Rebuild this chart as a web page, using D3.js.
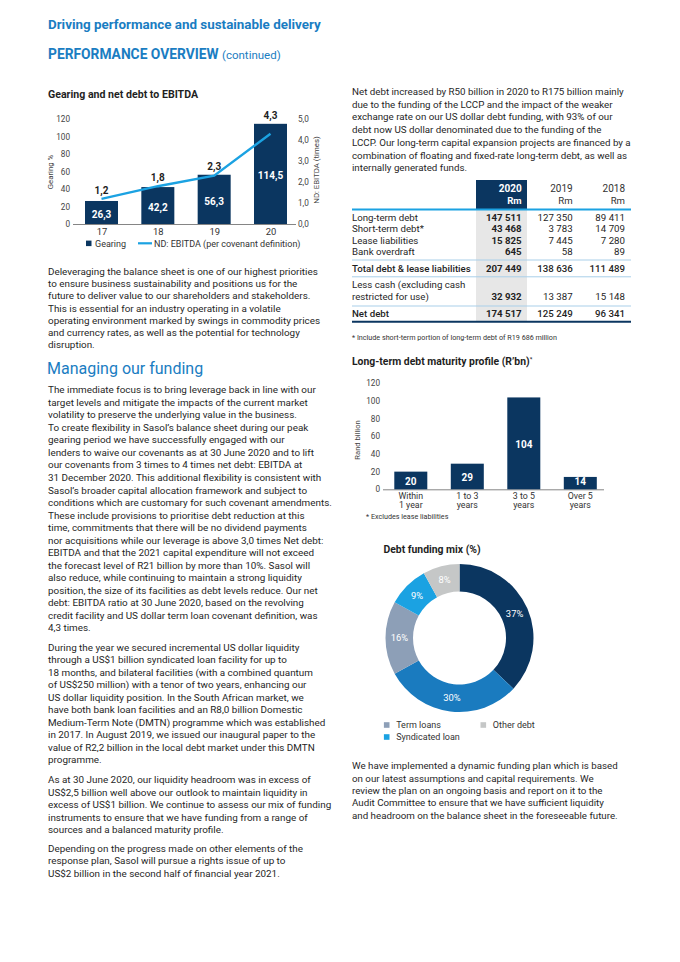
<!DOCTYPE html>
<html><head><meta charset="utf-8">
<script src="https://cdn.jsdelivr.net/npm/d3@7"></script>
<style>
body{margin:0;background:#fff;}
svg{display:block;font-family:Roboto, "Noto Sans", sans-serif;}
</style></head><body>
<svg id="page" width="680" height="962"></svg>
<script>
// ---------------- DATA ----------------
const gearYears = ["17", "18", "19", "20"];
const gearing = [26.3, 42.2, 56.3, 114.5];
const ndEbitda = [1.2, 1.8, 2.3, 4.3];
const gearTicks = [0, 20, 40, 60, 80, 100, 120];
const ndTicks = [0, 1, 2, 3, 4, 5];

const matCats = ["Within\n1 year", "1 to 3\nyears", "3 to 5\nyears", "Over 5\nyears"];
const matValues = [20, 29, 104, 14];
const matTicks = [0, 20, 40, 60, 80, 100, 120];

const mixValues = [37, 30, 16, 9, 8];
const mixNames = ["seg37", "seg30", "Term loans", "Syndicated loan", "Other debt"];
const mixLegend = ["Term loans", "Other debt", "Syndicated loan"];

const tblYears = ["2020", "2019", "2018"];
const tblLabels = ["Long-term debt", "Short-term debt*", "Lease liabilities", "Bank overdraft",
  "Total debt & lease liabilities", "Less cash (excluding cash\nrestricted for use)", "Net debt"];
const tbl2020 = ["147 511", "43 468", "15 825", "645", "207 449", "32 932", "174 517"];
const tbl2019 = ["127 350", "3 783", "7 445", "58", "138 636", "13 387", "125 249"];
const tbl2018 = ["89 411", "14 709", "7 280", "89", "111 489", "15 148", "96 341"];

const paraLeft1 = [
  "Deleveraging the balance sheet is one of our highest priorities",
  "to ensure business sustainability and positions us for the",
  "future to deliver value to our shareholders and stakeholders.",
  "This is essential for an industry operating in a volatile",
  "operating environment marked by swings in commodity prices",
  "and currency rates, as well as the potential for technology",
  "disruption."];
const paraLeft2 = [
  "The immediate focus is to bring leverage back in line with our",
  "target levels and mitigate the impacts of the current market",
  "volatility to preserve the underlying value in the business.",
  "To create flexibility in Sasol\u2019s balance sheet during our peak",
  "gearing period we have successfully engaged with our",
  "lenders to waive our covenants as at 30 June 2020 and to lift",
  "our covenants from 3 times to 4 times net debt: EBITDA at",
  "31 December 2020. This additional flexibility is consistent with",
  "Sasol\u2019s broader capital allocation framework and subject to",
  "conditions which are customary for such covenant amendments.",
  "These include provisions to prioritise debt reduction at this",
  "time, commitments that there will be no dividend payments",
  "nor acquisitions while our leverage is above 3,0 times Net debt:",
  "EBITDA and that the 2021 capital expenditure will not exceed",
  "the forecast level of R21 billion by more than 10%. Sasol will",
  "also reduce, while continuing to maintain a strong liquidity",
  "position, the size of its facilities as debt levels reduce. Our net",
  "debt: EBITDA ratio at 30 June 2020, based on the revolving",
  "credit facility and US dollar term loan covenant definition, was",
  "4,3 times."];
const paraLeft3 = [
  "During the year we secured incremental US dollar liquidity",
  "through a US$1 billion syndicated loan facility for up to",
  "18 months, and bilateral facilities (with a combined quantum",
  "of US$250 million) with a tenor of two years, enhancing our",
  "US dollar liquidity position. In the South African market, we",
  "have both bank loan facilities and an R8,0 billion Domestic",
  "Medium-Term Note (DMTN) programme which was established",
  "in 2017. In August 2019, we issued our inaugural paper to the",
  "value of R2,2 billion in the local debt market under this DMTN",
  "programme."];
const paraLeft4 = [
  "As at 30 June 2020, our liquidity headroom was in excess of",
  "US$2,5 billion well above our outlook to maintain liquidity in",
  "excess of US$1 billion. We continue to assess our mix of funding",
  "instruments to ensure that we have funding from a range of",
  "sources and a balanced maturity profile."];
const paraLeft5 = [
  "Depending on the progress made on other elements of the",
  "response plan, Sasol will pursue a rights issue of up to",
  "US$2 billion in the second half of financial year 2021."];
const paraRight1 = [
  "Net debt increased by R50 billion in 2020 to R175 billion mainly",
  "due to the funding of the LCCP and the impact of the weaker",
  "exchange rate on our US dollar debt funding, with 93% of our",
  "debt now US dollar denominated due to the funding of the",
  "LCCP. Our long-term capital expansion projects are financed by a",
  "combination of floating and fixed-rate long-term debt, as well as",
  "internally generated funds."];
const paraRight2 = [
  "We have implemented a dynamic funding plan which is based",
  "on our latest assumptions and capital requirements. We",
  "review the plan on an ongoing basis and report on it to the",
  "Audit Committee to ensure that we have sufficient liquidity",
  "and headroom on the balance sheet in the foreseeable future."];

// ---------------- STYLE ----------------
const NAVY = "#0b3660", BRIGHT = "#1ba2e2", MID = "#1a7bbf", GREYBLUE = "#8d9fb7",
      LGREY = "#c5c7c7", HEAD = "#1a7dc2", TXT = "#1f1f1f", AX = "#444";
const colorOf = {"seg37": NAVY, "seg30": MID, "Term loans": GREYBLUE, "Syndicated loan": BRIGHT, "Other debt": LGREY};

const svg = d3.select("#page");
const fmtComma = d => d3.format(".1f")(d).replace(".", ",");

function para(lines, x, y0, lh, size) {
  svg.append("g").selectAll("text").data(lines).join("text")
    .attr("x", x).attr("y", (d, i) => y0 + i * lh)
    .attr("font-size", size || 9.9).attr("fill", TXT).text(d => d);
}

// ---------------- HEADER ----------------
svg.append("text").attr("x", 48).attr("y", 28.5).attr("font-size", 13.4).attr("font-weight", 700)
  .attr("fill", HEAD).text("Driving performance and sustainable delivery");
const h2 = svg.append("text").attr("x", 48).attr("y", 58.5).attr("fill", HEAD);
h2.append("tspan").attr("font-size", 13.8).attr("font-weight", 700).text("PERFORMANCE OVERVIEW ");
h2.append("tspan").attr("font-size", 11.5).text("(continued)");

// ---------------- CHART 1: gearing ----------------
svg.append("text").attr("x", 48).attr("y", 97.5).attr("font-size", 10.6).attr("font-weight", 700)
  .attr("fill", TXT).text("Gearing and net debt to EBITDA");

const x1 = d3.scalePoint().domain(gearYears).range([101.5, 270.5]);
const yL = d3.scaleLinear().domain([0, 120]).range([224, 119]);
const yR = d3.scaleLinear().domain([0, 5]).range([224, 119]);
const bw1 = 33;

const axL = svg.append("g").attr("transform", "translate(70,0)")
  .call(d3.axisLeft(yL).tickValues(gearTicks).tickSize(0).tickPadding(0));
const axR = svg.append("g").attr("transform", "translate(298,0)")
  .call(d3.axisRight(yR).tickValues(ndTicks).tickSize(0).tickPadding(0).tickFormat(fmtComma));
const axB = svg.append("g").attr("transform", "translate(0,224)")
  .call(d3.axisBottom(x1).tickSize(0).tickPadding(4.5));
[axL, axR, axB].forEach(a => {
  a.select(".domain").remove();
  a.selectAll("text").attr("font-size", 8.2).attr("fill", AX).attr("font-family", "Roboto, sans-serif");
});
axB.selectAll("text").attr("font-size", 9.4).attr("fill", "#333");
svg.append("line").attr("x1", 73).attr("x2", 296).attr("y1", 224.5).attr("y2", 224.5)
  .attr("stroke", "#666").attr("stroke-width", 0.8);

svg.append("text").attr("transform", "translate(53,172) rotate(-90)").attr("text-anchor", "middle")
  .attr("font-size", 7.8).attr("fill", AX).text("Gearing %");
svg.append("text").attr("transform", "translate(319,170) rotate(-90)").attr("text-anchor", "middle")
  .attr("font-size", 7.8).attr("fill", AX).text("ND: EBITDA (times)");

svg.append("g").selectAll("rect").data(gearing).join("rect")
  .attr("x", (d, i) => x1(gearYears[i]) - bw1 / 2).attr("width", bw1)
  .attr("y", d => yL(d)).attr("height", d => yL(0) - yL(d)).attr("fill", NAVY);
svg.append("g").selectAll("text").data(gearing).join("text")
  .attr("x", (d, i) => x1(gearYears[i])).attr("y", d => (yL(d) + yL(0)) / 2 + 5.5)
  .attr("text-anchor", "middle").attr("font-size", 10).attr("font-weight", 700).attr("fill", "#fff")
  .text(d => fmtComma(d));

const line1 = d3.line().x((d, i) => x1(gearYears[i])).y(d => yR(d)).curve(d3.curveLinear);
svg.append("path").datum(ndEbitda).attr("d", line1).attr("fill", "none")
  .attr("stroke", BRIGHT).attr("stroke-width", 2.4);
svg.append("g").selectAll("text").data(ndEbitda).join("text")
  .attr("x", (d, i) => x1(gearYears[i]))
  .attr("y", (d, i) => Math.min(yR(d), yL(gearing[i])) - 5)
  .attr("text-anchor", "middle").attr("font-size", 10).attr("font-weight", 700).attr("fill", TXT)
  .text(d => fmtComma(d));

// legend
svg.append("rect").attr("x", 86).attr("y", 240.6).attr("width", 5.5).attr("height", 5.5).attr("fill", NAVY);
svg.append("text").attr("x", 95).attr("y", 246.5).attr("font-size", 9).attr("fill", "#333").text("Gearing");
svg.append("line").attr("x1", 138).attr("x2", 152).attr("y1", 243.3).attr("y2", 243.3)
  .attr("stroke", BRIGHT).attr("stroke-width", 2.2);
svg.append("text").attr("x", 154).attr("y", 246.5).attr("font-size", 9).attr("fill", "#333")
  .text("ND: EBITDA (per covenant definition)");

// ---------------- LEFT TEXT ----------------
para(paraLeft1, 48, 275, 12.2);
svg.append("text").attr("x", 47).attr("y", 373.5).attr("font-size", 16).attr("fill", HEAD)
  .text("Managing our funding");
para(paraLeft2, 48, 393.3, 12.53);
para(paraLeft3, 48, 650.6, 12.5);
para(paraLeft4, 48, 783.3, 12.4);
para(paraLeft5, 48, 851.6, 12.5);

// ---------------- RIGHT TEXT ----------------
para(paraRight1, 352, 95, 12.7, 9.75);
para(paraRight2, 352, 769.3, 12.3, 9.75);

// ---------------- TABLE ----------------
const colRight = [521.7, 572.7, 625];
const rowY = [221, 232.3, 243.6, 255, 271.6, 300, 316.6];
const labelY = [221, 232.3, 243.6, 255, 271.6, 288.3, 316.6];
svg.append("rect").attr("x", 476).attr("y", 180).attr("width", 51).attr("height", 29).attr("fill", NAVY);
svg.append("rect").attr("x", 476).attr("y", 210).attr("width", 51).attr("height", 111).attr("fill", "#e7e7e7");
tblYears.forEach((yr, j) => {
  const c = j === 0 ? "#fff" : "#333", w = j === 0 ? 700 : 400;
  svg.append("text").attr("x", colRight[j]).attr("y", 192).attr("text-anchor", "end")
    .attr("font-size", 10).attr("font-weight", w).attr("fill", c).text(yr);
  svg.append("text").attr("x", colRight[j]).attr("y", 204.3).attr("text-anchor", "end")
    .attr("font-size", 9.6).attr("font-weight", w).attr("fill", c).text("Rm");
});
svg.append("line").attr("x1", 352).attr("x2", 631).attr("y1", 209.5).attr("y2", 209.5)
  .attr("stroke", BRIGHT).attr("stroke-width", 1.8);
[260, 276.8, 306].forEach(y => svg.append("line").attr("x1", 352).attr("x2", 631)
  .attr("y1", y).attr("y2", y).attr("stroke", "#a9cfe9").attr("stroke-width", 1));
svg.append("line").attr("x1", 352).attr("x2", 631).attr("y1", 321.8).attr("y2", 321.8)
  .attr("stroke", NAVY).attr("stroke-width", 2);

tblLabels.forEach((lab, i) => {
  const t = svg.append("text").attr("x", 352).attr("y", labelY[i]).attr("font-size", 9.7)
    .attr("fill", TXT).attr("font-weight", (i === 4 || i === 6) ? 500 : 400);
  lab.split("\n").forEach((s, k) => t.append("tspan").attr("x", 352).attr("dy", k ? 11.7 : 0).text(s));
});
[tbl2020, tbl2019, tbl2018].forEach((col, j) => {
  svg.append("g").selectAll("text").data(col).join("text")
    .attr("x", colRight[j]).attr("y", (d, i) => rowY[i]).attr("text-anchor", "end")
    .attr("font-size", 9.7).attr("fill", TXT)
    .attr("font-weight", (d, i) => j === 0 ? 700 : ((i === 4 || i === 6) ? 500 : 400))
    .text(d => d);
});
svg.append("text").attr("x", 352).attr("y", 339.5).attr("font-size", 7.2).attr("fill", "#333")
  .text("* Include short-term portion of long-term debt of R19 686 million");

// ---------------- CHART 2: maturity ----------------
const t2 = svg.append("text").attr("x", 352).attr("y", 365).attr("font-size", 10.4).attr("font-weight", 700).attr("fill", TXT);
t2.append("tspan").text("Long-term debt maturity profile (R\u2019bn)");
t2.append("tspan").attr("font-size", 6).attr("dy", -4).text("*");

const x2 = d3.scalePoint().domain(matCats).range([410.8, 580.3]);
const y2 = d3.scaleLinear().domain([0, 120]).range([489.3, 383.3]);
const ax2 = svg.append("g").attr("transform", "translate(380,0)")
  .call(d3.axisLeft(y2).tickValues(matTicks).tickSize(0).tickPadding(0));
ax2.select(".domain").remove();
ax2.selectAll("text").attr("font-size", 8.2).attr("fill", AX).attr("font-family", "Roboto, sans-serif");
svg.append("line").attr("x1", 383).attr("x2", 604).attr("y1", 489.8).attr("y2", 489.8)
  .attr("stroke", "#666").attr("stroke-width", 0.8);
svg.append("text").attr("transform", "translate(360,440) rotate(-90)").attr("text-anchor", "middle")
  .attr("font-size", 7.6).attr("fill", AX).text("Rand billion");

svg.append("g").selectAll("rect").data(matValues).join("rect")
  .attr("x", (d, i) => x2(matCats[i]) - 16.5).attr("width", 33)
  .attr("y", d => y2(d)).attr("height", d => y2(0) - y2(d)).attr("fill", NAVY);
svg.append("g").selectAll("text").data(matValues).join("text")
  .attr("x", (d, i) => x2(matCats[i]))
  .attr("y", d => Math.min((y2(d) + y2(0)) / 2, y2(0) - 8.6) + 4.2)
  .attr("text-anchor", "middle").attr("font-size", 10).attr("font-weight", 700).attr("fill", "#fff")
  .text(d => d);
const xl2 = svg.append("g");
matCats.forEach(c => {
  const t = xl2.append("text").attr("text-anchor", "middle").attr("font-size", 8.8).attr("fill", "#333");
  c.split("\n").forEach((s, k) => t.append("tspan").attr("x", x2(c)).attr("y", 499 + k * 9.2).text(s));
});
svg.append("text").attr("x", 366).attr("y", 519.2).attr("font-size", 7.2).attr("fill", "#333")
  .text("* Excludes lease liabilities");

// ---------------- CHART 3: donut ----------------
svg.append("text").attr("x", 383.5).attr("y", 552.5).attr("font-size", 10.4).attr("font-weight", 700)
  .attr("fill", TXT).text("Debt funding mix (%)");
const pie = d3.pie().sort(null).value(d => d);
const arcs = pie(mixValues);
const arc = d3.arc().innerRadius(46.5).outerRadius(74);
const arcLab = d3.arc().innerRadius(60).outerRadius(60);
const dg = svg.append("g").attr("transform", "translate(459.5,638)");
dg.selectAll("path").data(arcs).join("path").attr("d", arc)
  .attr("fill", (d, i) => colorOf[mixNames[i]]);
dg.selectAll("text").data(arcs).join("text")
  .attr("x", d => arcLab.centroid(d)[0]).attr("y", d => arcLab.centroid(d)[1] + 3.3)
  .attr("text-anchor", "middle").attr("font-size", 9.4).attr("fill", "#fff")
  .text(d => d.data + "%");

const legPos = [[386.7, 725], [483.3, 725], [386.7, 737]];
mixLegend.forEach((name, i) => {
  svg.append("rect").attr("x", legPos[i][0] - 2.8).attr("y", legPos[i][1] - 2.8)
    .attr("width", 5.6).attr("height", 5.6).attr("fill", colorOf[name]);
  svg.append("text").attr("x", legPos[i][0] + 9.5).attr("y", legPos[i][1] + 3.2)
    .attr("font-size", 9).attr("fill", "#333").text(name);
});
</script>
</body></html>
